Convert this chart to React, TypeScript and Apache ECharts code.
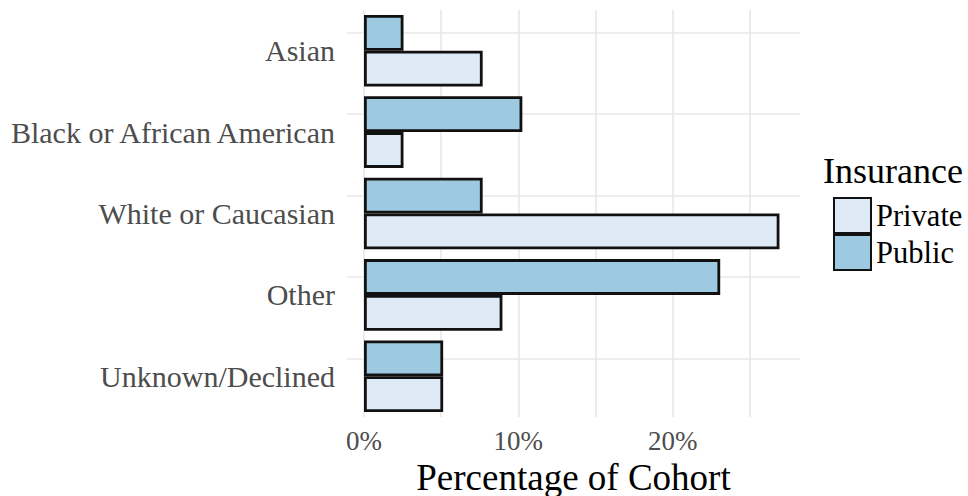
import React, { useEffect, useRef } from 'react';
import * as echarts from 'echarts';

const categories = ['Asian', 'Black or African American', 'White or Caucasian', 'Other', 'Unknown/Declined'];
const publicValues = [2.56, 10.26, 7.69, 23.08, 5.13];
const privateValues = [7.69, 2.56, 26.92, 8.97, 5.13];
const xTickLabels = [0, 10, 20];
const xGridValues = [0, 5, 10, 15, 20, 25];
const legendTitle = 'Insurance';
const legendNames = ['Private', 'Public'];
const xAxisTitle = 'Percentage of Cohort';

const FONT = '"Liberation Serif", "Times New Roman", serif';
const GRID_COLOR = '#e8e8e8';

export default function App() {
  const ref = useRef<HTMLDivElement>(null);
  useEffect(() => {
    const chart = echarts.init(ref.current!, null, { renderer: 'svg' });
    const gridLines = {
      silent: true,
      z: 1,
      symbol: 'none',
      label: { show: false },
      emphasis: { disabled: true },
      lineStyle: { color: GRID_COLOR, width: 1.6, type: 'solid' },
      data: [
        ...xGridValues.map((v) => ({ xAxis: v })),
        ...categories.map((c) => ({ yAxis: c })),
      ],
    };
    chart.setOption({
      animation: false,
      backgroundColor: '#ffffff',
      grid: { left: 347, top: 10, width: 453, height: 407, outerBoundsMode: 'none', containLabel: false },
      xAxis: {
        type: 'value',
        min: -1.1,
        max: 28.25,
        axisLine: { show: false },
        axisTick: { show: false },
        splitLine: { show: false },
        axisLabel: {
          customValues: xTickLabels,
          formatter: (v: number) => `${v}%`,
          fontFamily: FONT,
          fontSize: 27,
          lineHeight: 25,
          color: '#4d4d4d',
          margin: 11,
        },
        name: xAxisTitle,
        nameLocation: 'middle',
        nameGap: 44,
        nameMoveOverlap: false,
        nameTextStyle: { fontFamily: FONT, fontSize: 37, lineHeight: 32, color: '#000' },
      },
      yAxis: {
        type: 'category',
        data: categories,
        inverse: true,
        axisLine: { show: false },
        axisTick: { show: false },
        splitLine: { show: false },
        axisLabel: {
          fontFamily: FONT,
          fontSize: 30,
          color: '#4d4d4d',
          margin: 12,
        },
      },
      legend: {
        data: legendNames,
        orient: 'vertical',
        left: 833,
        top: 197,
        padding: 0,
        itemGap: 0,
        itemWidth: 37,
        itemHeight: 35,
        icon: 'rect',
        itemStyle: { borderColor: '#111', borderWidth: 2 },
        textStyle: { fontFamily: FONT, fontSize: 30.5, color: '#000' },
        selectedMode: false,
      },
      graphic: [
        {
          type: 'text',
          left: 823,
          top: 153,
          style: { text: legendTitle, font: `36px ${FONT}`, fill: '#000' },
        },
      ],
      series: [
        {
          name: 'Public',
          type: 'bar',
          data: publicValues,
          barGap: '0%',
          barCategoryGap: '12%',
          itemStyle: { color: '#9ecae1', borderColor: '#111', borderWidth: 2.8 },
          markLine: gridLines,
        },
        {
          name: 'Private',
          type: 'bar',
          data: privateValues,
          barGap: '0%',
          barCategoryGap: '12%',
          itemStyle: { color: '#deebf7', borderColor: '#111', borderWidth: 2.8 },
        },
      ],
    });
    return () => chart.dispose();
  }, []);
  return <div ref={ref} style={{ position: 'fixed', left: 0, top: 0, width: 968, height: 496 }} />;
}
